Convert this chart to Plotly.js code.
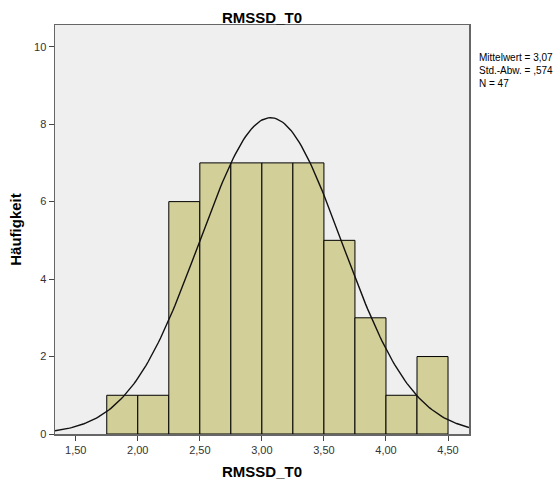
<!DOCTYPE html>
<html><head><meta charset="utf-8">
<script src="https://cdn.plot.ly/plotly-3.0.1.min.js"></script>
<style>body{margin:0;background:#fff}#c{width:560px;height:486px}</style>
</head><body><div id="c"></div>
<script>
const binStarts = [1.75, 2.00, 2.25, 2.50, 2.75, 3.00, 3.25, 3.50, 3.75, 4.00, 4.25];
const counts    = [1, 1, 6, 7, 7, 7, 7, 5, 3, 1, 2];
const binWidth = 0.25;
const mean = 3.07, sd = 0.574, n = 47;
const statLines = ["Mittelwert = 3,07", "Std.-Abw. = ,574", "N = 47"];
const xRange = [1.333, 4.669];
const yRange = [0, 10.56];

const centers = binStarts.map(s => s + binWidth/2);
const cx = [], cy = [];
for (let i = 0; i <= 200; i++) {
  const x = xRange[0] + (xRange[1]-xRange[0]) * i / 200;
  cx.push(x);
  cy.push(n * binWidth / (sd*Math.sqrt(2*Math.PI)) * Math.exp(-0.5*((x-mean)/sd)**2));
}

const data = [
  {type:'bar', x:centers, y:counts, width:binWidth,
   marker:{color:'#d3cf99', line:{color:'#000', width:1}}, hoverinfo:'skip'},
  {type:'scatter', mode:'lines', x:cx, y:cy, line:{color:'#111', width:1.4}, hoverinfo:'skip'}
];
const layout = {
  width:560, height:486, showlegend:false,
  separators:', ',
  paper_bgcolor:'#fff', plot_bgcolor:'#efefef',
  margin:{l:55, r:91, t:25, b:52},
  font:{family:'Liberation Sans, Arial, sans-serif', color:'#333', size:11},
  title:{text:'<b>RMSSD_T0</b>', x:0.5, xref:'paper', xanchor:'center', y:0.975, yref:'container', font:{size:15, color:'#000'}},
  xaxis:{range:xRange, tickvals:[1.5,2,2.5,3,3.5,4,4.5], tickformat:'.2f',
    showgrid:false, zeroline:false, showline:true, mirror:true, linecolor:'#666', linewidth:1.5,
    ticks:'outside', ticklen:5, tickcolor:'#444',
    title:{text:'<b>RMSSD_T0</b>', font:{size:15, color:'#000'}, standoff:12}},
  yaxis:{range:yRange, tickvals:[0,2,4,6,8,10],
    showgrid:false, zeroline:false, showline:true, mirror:true, linecolor:'#666', linewidth:1.5,
    ticks:'outside', ticklen:5, tickcolor:'#444',
    title:{text:'<b>Häufigkeit</b>', font:{size:15, color:'#000'}, standoff:9}},
  bargap:0,
  annotations:[{xref:'paper', yref:'paper', x:1.02, y:0.94, xanchor:'left', yanchor:'top',
    align:'left', showarrow:false, text:statLines.join('<br>'),
    font:{size:10, color:'#000'}}]
};
Plotly.newPlot('c', data, layout, {staticPlot:true});
</script></body></html>
